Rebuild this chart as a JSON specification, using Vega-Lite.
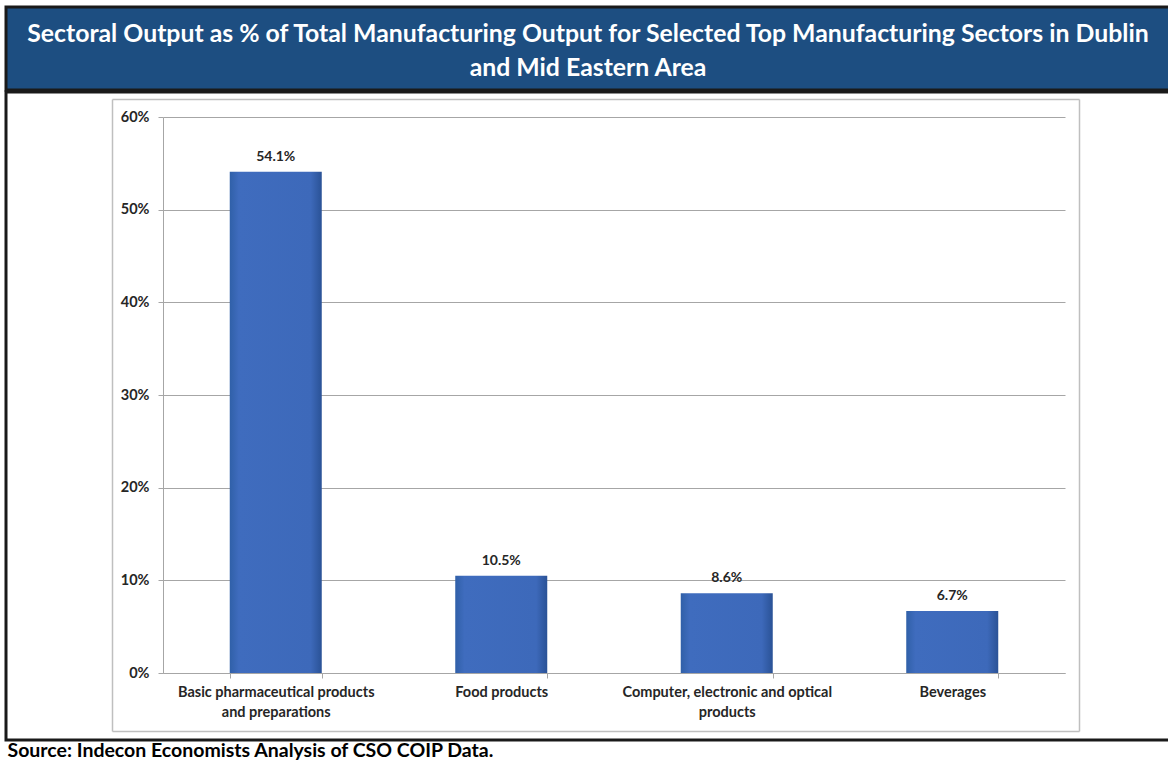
{
  "$schema": "https://vega.github.io/schema/vega-lite/v6.json",
  "padding": {"left": 4, "top": 5, "right": 0, "bottom": 0},
  "background": "white",
  "config": {"font": "Lato"},
  "title": {
    "text": "Source: Indecon Economists Analysis of CSO COIP Data.",
    "orient": "bottom",
    "anchor": "start",
    "font": "Lato",
    "fontSize": 19.5,
    "fontWeight": "bold",
    "color": "#000000",
    "offset": 0,
    "dx": 3
  },
  "spacing": -3,
  "vconcat": [
    {
      "width": 1164,
      "height": 83,
      "view": {"fill": "#1D4E81", "stroke": "#1a1a1a", "strokeWidth": 3},
      "data": {"values": [{"t": ["Sectoral Output as % of Total Manufacturing Output for Selected Top Manufacturing Sectors in Dublin", "and Mid Eastern Area"]}]},
      "mark": {"type": "text", "color": "#FFFFFF", "font": "Lato", "fontSize": 24.8, "fontWeight": "bold", "lineHeight": 34, "baseline": "middle", "align": "center", "dy": -14},
      "encoding": {"text": {"field": "t", "type": "nominal"}}
    },
    {
      "width": 1164,
      "height": 648,
      "view": {"stroke": "#1a1a1a", "strokeWidth": 3},
      "layer": [
        {
          "data": {"values": [
            {"sector": "Basic pharmaceutical products and preparations", "share": 0.541},
            {"sector": "Food products", "share": 0.105},
            {"sector": "Computer, electronic and optical products", "share": 0.086},
            {"sector": "Beverages", "share": 0.067}
          ]},
          "encoding": {
            "x": {
              "field": "sector", "type": "nominal", "sort": null,
              "scale": {"range": [157, 1059], "paddingInner": 0.592, "paddingOuter": 0.296},
              "axis": {
                "title": null, "orient": "bottom", "offset": -67, "labelAngle": 0,
                "tickBand": "extent", "tickSize": 5, "tickColor": "#A6A6A6", "domainColor": "#A6A6A6",
                "labelFont": "Lato", "labelFontSize": 14.5, "labelFontWeight": "bold", "labelColor": "#262626",
                "labelPadding": 7, "labelLineHeight": 20, "labelLimit": 0, "grid": false,
                "labelExpr": "datum.label == 'Basic pharmaceutical products and preparations' ? ['Basic pharmaceutical products', 'and preparations'] : datum.label == 'Computer, electronic and optical products' ? ['Computer, electronic and optical', 'products'] : datum.label"
              }
            },
            "y": {
              "field": "share", "type": "quantitative",
              "scale": {"domain": [0, 0.6], "range": [581, 25], "nice": false},
              "axis": {
                "title": null, "orient": "left", "offset": -157,
                "values": [0, 0.1, 0.2, 0.3, 0.4, 0.5, 0.6], "format": ".0%",
                "tickSize": 5, "tickColor": "#A6A6A6", "domainColor": "#A6A6A6",
                "grid": true, "gridColor": "#A6A6A6",
                "labelFont": "Lato", "labelFontSize": 14.5, "labelFontWeight": "bold", "labelColor": "#262626",
                "labelPadding": 9
              }
            }
          },
          "layer": [
            {
              "mark": {
                "type": "bar",
                "color": {"gradient": "linear", "x1": 0, "y1": 0, "x2": 1, "y2": 0,
                  "stops": [
                    {"offset": 0, "color": "#3060A8"},
                    {"offset": 0.1, "color": "#3F6CBE"},
                    {"offset": 0.88, "color": "#3D69BA"},
                    {"offset": 1, "color": "#2A5296"}
                  ]}
              }
            },
            {
              "mark": {"type": "text", "baseline": "bottom", "dy": -8, "font": "Lato", "fontWeight": "bold", "fontSize": 14, "color": "#262626"},
              "encoding": {"text": {"field": "share", "type": "quantitative", "format": ".1%"}}
            }
          ]
        },
        {
          "data": {"values": [{"fx": 0, "fy": 0}, {"fx": 1, "fy": 1}]},
          "mark": {"type": "point", "opacity": 0},
          "encoding": {
            "x": {"field": "fx", "type": "quantitative",
              "scale": {"domain": [0, 1], "range": [106, 1073], "nice": false, "zero": false},
              "axis": {"orient": "top", "offset": -7, "title": null, "labels": false, "ticks": false, "grid": false, "domainColor": "#BFBFBF", "domainWidth": 1.5}},
            "y": {"field": "fy", "type": "quantitative",
              "scale": {"domain": [0, 1], "range": [639, 7], "nice": false, "zero": false},
              "axis": {"orient": "right", "offset": -91, "title": null, "labels": false, "ticks": false, "grid": false, "domainColor": "#BFBFBF", "domainWidth": 1.5}}
          }
        },
        {
          "data": {"values": [{"fx": 0, "fy": 0}, {"fx": 1, "fy": 1}]},
          "mark": {"type": "point", "opacity": 0},
          "encoding": {
            "x": {"field": "fx", "type": "quantitative",
              "scale": {"domain": [0, 1], "range": [106, 1073], "nice": false, "zero": false},
              "axis": {"orient": "bottom", "offset": -9, "title": null, "labels": false, "ticks": false, "grid": false, "domainColor": "#BFBFBF", "domainWidth": 1.5}},
            "y": {"field": "fy", "type": "quantitative",
              "scale": {"domain": [0, 1], "range": [639, 7], "nice": false, "zero": false},
              "axis": {"orient": "left", "offset": -106, "title": null, "labels": false, "ticks": false, "grid": false, "domainColor": "#BFBFBF", "domainWidth": 1.5}}
          }
        }
      ],
      "resolve": {"scale": {"x": "independent", "y": "independent"}, "axis": {"x": "independent", "y": "independent"}}
    }
  ]
}
